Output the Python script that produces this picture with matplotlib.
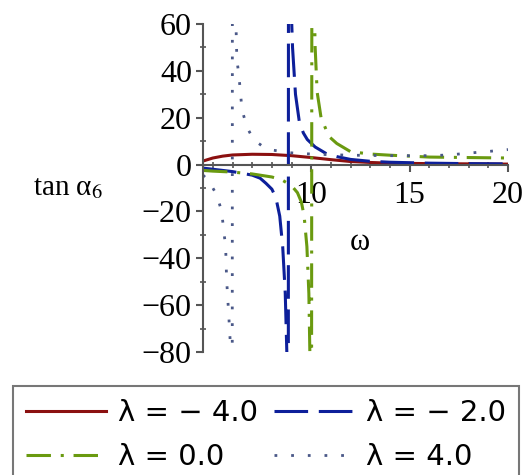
import matplotlib
matplotlib.use('Agg')
import matplotlib.pyplot as plt
from matplotlib.ticker import MultipleLocator, FixedLocator

# values (omega, tan alpha_6) for each lambda
omega_m4 = [4.5, 5.0, 5.5, 6.0, 7.0, 8.0, 9.0, 10.0, 11.0, 12.0, 13.0, 14.0, 16.0, 18.0, 20.0]
tan_m4 = [1.5, 2.8, 3.6, 4.1, 4.4, 4.3, 3.8, 3.0, 2.1, 1.3, 0.9, 0.6, 0.4, 0.3, 0.2]

omega_m2 = [4.5, 5.0, 6.0, 7.0, 7.4, 7.7, 8.0, 8.2, 8.4, 8.55, 8.68, 8.76, 8.81, 8.83,
            8.85, 8.88, 8.95, 9.05, 9.2, 9.4, 9.6, 9.8, 10.2, 10.8, 11.3, 12.0, 13.0,
            14.0, 16.0, 18.0, 20.0]
tan_m2 = [-1.5, -2.0, -3.0, -4.5, -5.8, -8.0, -10.5, -14.0, -22.0, -35.0, -55.0, -80.0,
          -150.0, -300.0, 300.0, 150.0, 75.0, 50.0, 30.0, 18.0, 13.5, 10.7, 7.5, 4.5,
          3.4, 2.2, 1.4, 1.0, 0.6, 0.4, 0.3]

omega_0 = [4.5, 5.0, 6.0, 7.0, 8.0, 8.5, 9.0, 9.3, 9.5, 9.64, 9.78, 9.88, 9.95, 10.0,
           10.05, 10.1, 10.2, 10.3, 10.5, 10.9, 11.3, 11.7, 12.0, 13.0, 14.0, 16.0,
           18.0, 20.0]
tan_0 = [-2.5, -2.8, -3.2, -4.0, -5.3, -6.5, -9.0, -12.0, -16.0, -22.0, -35.0, -55.0,
         -90.0, -300.0, 300.0, 90.0, 50.0, 31.0, 20.0, 12.0, 9.0, 7.0, 5.5, 4.5, 4.0,
         3.2, 3.0, 2.8]

omega_p4 = [4.5, 4.8, 5.2, 5.45, 5.55, 5.65, 5.7, 5.8, 5.9, 5.95, 5.98, 6.0, 6.08, 6.17,
            6.22, 6.33, 6.48, 6.73, 7.08, 7.5, 7.85, 9.0, 10.0, 11.0, 12.0, 13.0, 14.0,
            15.0, 16.0, 17.0, 18.0, 19.0, 20.0]
tan_p4 = [-4.5, -7.0, -13.0, -20.0, -28.0, -35.0, -49.0, -63.0, -78.0, -150.0, -300.0,
          300.0, 110.0, 62.0, 45.0, 37.6, 23.5, 16.0, 10.5, 8.0, 6.4, 5.0, 4.5, 4.2,
          4.0, 3.9, 3.8, 3.8, 3.8, 4.1, 4.9, 5.6, 6.4]

labels = ['λ = − 4.0', 'λ = − 2.0', 'λ = 0.0', 'λ = 4.0']
colors = ['#8b1010', '#0d1f9a', '#6a9a10', '#4a5888']

plt.rcParams['mathtext.fontset'] = 'stix'
serif = 'Liberation Serif'

fig = plt.figure(figsize=(5.29, 4.75), dpi=100)
ax = fig.add_axes([203 / 529, 1 - 352 / 475, 305 / 529, 328 / 475])

l1, = ax.plot(omega_m4, tan_m4, color=colors[0], lw=2.2, label=labels[0])
l2, = ax.plot(omega_m2, tan_m2, color=colors[1], lw=2.2, label=labels[1],
              dashes=(11, 3.5))
l3, = ax.plot(omega_0, tan_0, color=colors[2], lw=2.2, label=labels[2],
              dashes=(8, 3.2, 1, 3.2))
l4, = ax.plot(omega_p4, tan_p4, color=colors[3], lw=2.0, label=labels[3],
              dashes=(1, 5))

ax.set_xlim(4.5, 20)
ax.set_ylim(-80, 60)

for s in ['top', 'right']:
    ax.spines[s].set_visible(False)
ax.spines['bottom'].set_position(('data', 0))
for s in ['left', 'bottom']:
    ax.spines[s].set_color('#555555')
    ax.spines[s].set_linewidth(1.5)

ax.xaxis.set_major_locator(FixedLocator([10, 15, 20]))
ax.xaxis.set_minor_locator(MultipleLocator(1))
ax.yaxis.set_major_locator(MultipleLocator(20))
ax.yaxis.set_minor_locator(MultipleLocator(10))
ax.tick_params(which='major', direction='out', length=5, width=1.5, color='#555555',
               labelsize=23, pad=3)
ax.tick_params(which='minor', direction='inout', length=5, width=1.2, color='#555555')
ax.tick_params(axis='x', which='major', pad=7)
for lab in ax.get_xticklabels() + ax.get_yticklabels():
    lab.set_fontfamily(serif)

fig.text(33 / 529, 1 - 188 / 475, 'tan α$_6$', fontsize=21, family=serif,
         va='center', ha='left')
fig.text(360 / 529, 1 - 242 / 475, 'ω', fontsize=22, family=serif,
         va='center', ha='center')

leg = fig.legend([l1, l3, l2, l4], [labels[0], labels[2], labels[1], labels[3]],
                 loc='upper left', bbox_to_anchor=(13 / 529, 1 - 386 / 475), ncol=2,
                 fancybox=False, edgecolor='#555555', handlelength=2.75,
                 handletextpad=0.4, columnspacing=0.55, labelspacing=0.55,
                 borderpad=0.45, borderaxespad=0,
                 prop={'family': 'DejaVu Sans', 'size': 21})
leg.get_frame().set_linewidth(1.5)

fig.savefig('out.png', dpi=100)
